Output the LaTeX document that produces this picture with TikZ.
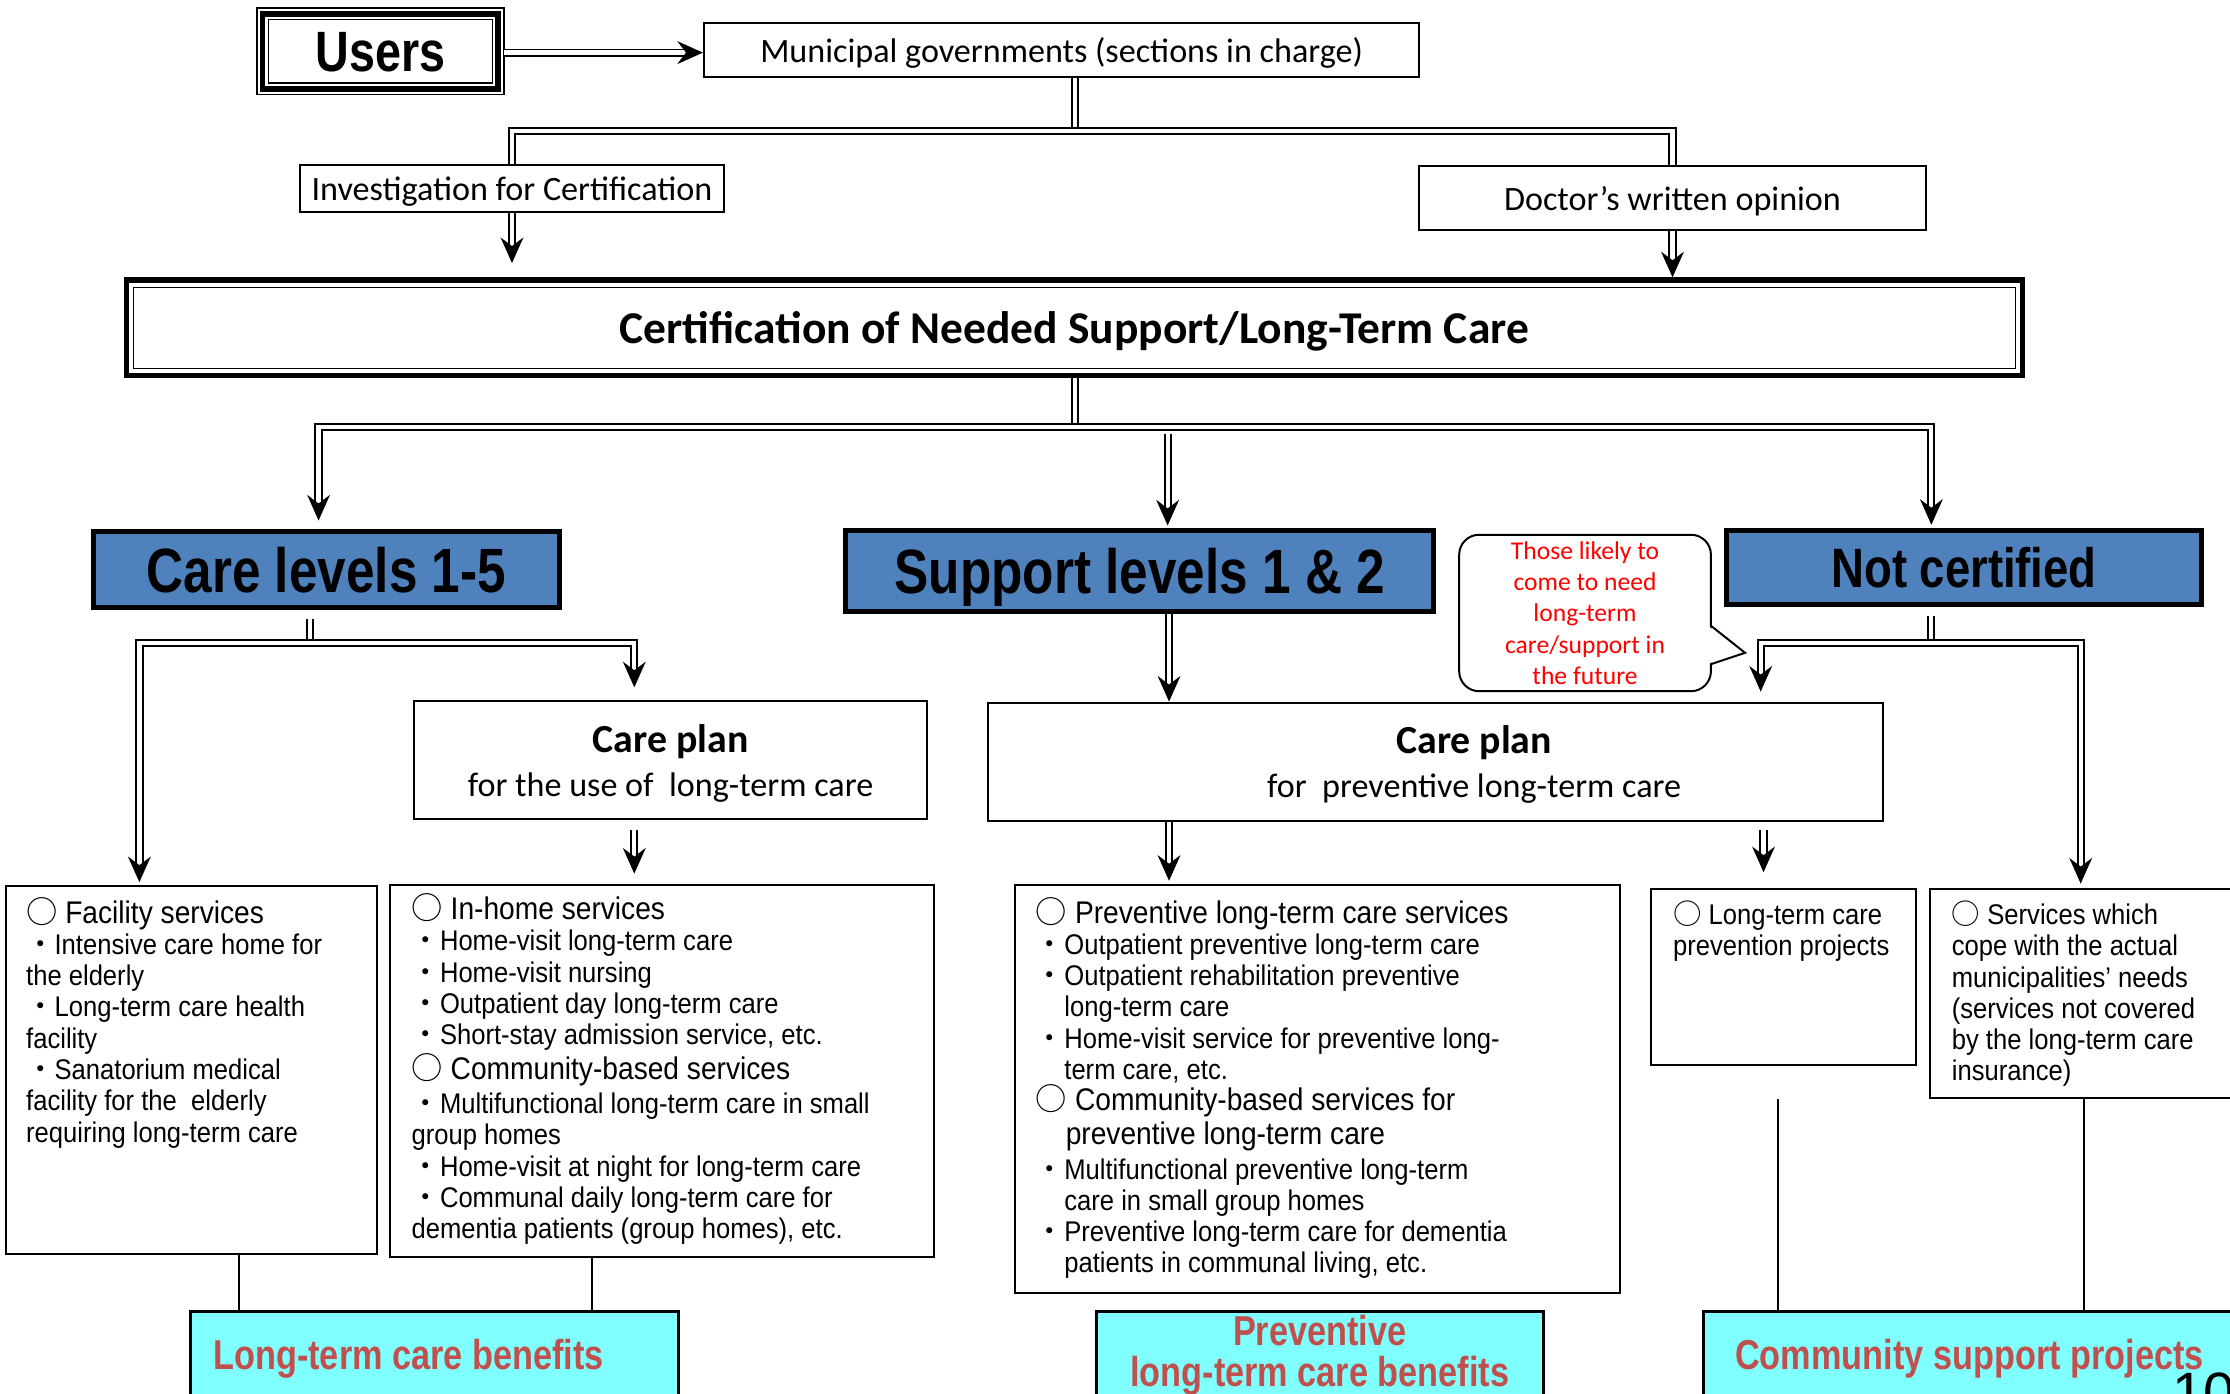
\documentclass[tikz,border=0pt]{standalone}
\usepackage{fontspec}
\setmainfont{Carlito}
\newfontfamily\arn[FakeStretch=0.9]{Liberation Sans}
\newfontfamily\arb[FakeStretch=0.82]{Liberation Sans}
\newfontfamily\arr{Liberation Sans}
\newfontfamily\jpf{Noto Sans CJK JP}
\usetikzlibrary{arrows.meta,shapes.callouts,calc}
\definecolor{lvblue}{HTML}{4F81BD}
\definecolor{boxcyan}{HTML}{80FFFF}
\definecolor{lblred}{HTML}{C0504D}
\newcommand\bul{{\jpf ・}}
\newcommand\cir{{\jpf ○}}
\newcommand\hd{\fontsize{11}{11}\selectfont}
\tikzset{
 box/.style={draw, line width=0.7pt, inner sep=0pt, text depth=0pt, font=\fontsize{12}{14}\selectfont},
 dbl/.style={double, double distance=1.5pt, line width=0.7pt},
 dblarrow/.style={dbl, -{Stealth[length=9pt, width=8pt, inset=3pt]}},
 lvl/.style={draw, line width=1.8pt, fill=lvblue, inner sep=0pt, text depth=0pt},
 cbox/.style={draw, line width=1pt, fill=boxcyan, inner sep=0pt, text depth=0pt},
 lst/.style={align=left, inner sep=0pt, anchor=base west, font=\arn\fontsize{10}{11}\selectfont},
 conn/.style={line width=0.7pt},
 redlbl/.style={font=\arb\bfseries\fontsize{14.7}{14.5}\selectfont, text=lblred},
}
\begin{document}
\begin{tikzpicture}[x=0.5pt, y=-0.5pt]
\useasboundingbox (0,0) rectangle (1568,980);
\clip (0,0) rectangle (1568,980);

% ---------- top ----------
\node[minimum width=86.5pt, minimum height=30pt, inner sep=0pt, font=\arb\bfseries\fontsize{20}{22}\selectfont] (users) at (267.5,37) {Users};
\draw[line width=0.5pt] ($(users.north west)+(0,-1)$) rectangle ($(users.south east)+(0,-1)$);
\draw[line width=2pt] ($(users.north west)+(4,3)$) rectangle ($(users.south east)+(-4,-5)$);
\draw[line width=0.5pt] ($(users.north west)+(8,7)$) rectangle ($(users.south east)+(-8,-9)$);

\node[box, minimum width=251.5pt, minimum height=19pt] (muni) at (746.5,35) {Municipal governments (sections in charge)};
\node[box, minimum width=149pt, minimum height=16.5pt] (inv) at (360,132.5) {Investigation for Certification};
\node[box, minimum width=178.5pt, minimum height=22.5pt] (doc) at (1176,139.5) {Doctor’s written opinion};

\node[draw, line width=2pt, minimum width=666.5pt, minimum height=33.5pt, inner sep=0pt, text depth=0pt, font=\bfseries\fontsize{16}{18}\selectfont] (cert) at (755.5,230.5) {Certification of Needed Support/Long-Term Care};
\draw[line width=0.5pt] ($(cert.north west)+(7,7)$) rectangle ($(cert.south east)+(-7,-7)$);

% ---------- levels ----------
\node[lvl, minimum width=163.7pt, minimum height=26.7pt, font=\arb\bfseries\fontsize{22}{24}\selectfont] (care) at (229.5,400.5) {Care levels 1-5};
\node[lvl, minimum width=206.7pt, minimum height=28.2pt, font=\arb\bfseries\fontsize{22}{24}\selectfont] (sup) at (801.5,401.5) {Support levels 1 \& 2};
\node[lvl, minimum width=167.2pt, minimum height=26.2pt, font=\arb\bfseries\fontsize{19.5}{22}\selectfont] (notc) at (1381,399) {Not certified};

% speech bubble
\node[draw, line width=0.7pt, rounded corners=7pt, minimum width=88.5pt, minimum height=55pt, inner sep=0pt,
      align=center, text=red, font=\fontsize{9}{11}\selectfont] (bub) at (1114.5,431)
  {Those likely to\\come to need\\long-term\\care/support in\\the future};
\coordinate (ptip) at (1227,459);
\fill[white] ([xshift=-1pt,yshift=-4.8pt]bub.east) -- (ptip) -- ([xshift=-1pt,yshift=-17.7pt]bub.east) -- cycle;
\draw[line width=0.7pt, line join=miter] ([xshift=-0.35pt,yshift=-4.5pt]bub.east) -- (ptip) -- ([xshift=-0.35pt,yshift=-18pt]bub.east);

% ---------- care plans ----------
\node[box, minimum width=180.5pt, minimum height=41.5pt, align=center, font=\fontsize{12}{15.5}\selectfont] (cp1) at (471.5,534.5)
  {{\bfseries\fontsize{14}{15.5}\selectfont Care plan}\\for the use of\ \ long-term care};
\node[box, minimum width=314.5pt, minimum height=41.5pt, align=center, font=\fontsize{12}{15.5}\selectfont] (cp2) at (1009.5,535.5)
  {\hspace*{27pt}{\bfseries\fontsize{14}{15.5}\selectfont Care plan}\\\hspace*{27pt}for\ \ preventive long-term care};

% ---------- service boxes ----------
\node[box, minimum width=130.5pt, minimum height=129.5pt] (fac) at (134.5,752.5) {};
\node[box, minimum width=191.5pt, minimum height=131pt] (inh) at (465.5,753) {};
\node[box, minimum width=212.5pt, minimum height=143.5pt] (prs) at (926.5,765.5) {};
\node[box, minimum width=93pt, minimum height=62pt] (ltp) at (1254,687) {};
\node[box, minimum width=131.5pt, minimum height=73.5pt] (svc) at (1488.5,698.5) {};

% multi-line nodes: base = last line
\node[lst] (facT) at (18,803) {{\hd\cir\ Facility services}\\
\bul Intensive care home for\\
the elderly\\
\bul Long-term care health\\
facility\\
\bul Sanatorium medical\\
facility for the\ \ elderly\\
requiring long-term care};

\node[lst] (inhT) at (289,871) {{\hd\cir\ In-home services}\\
\bul Home-visit long-term care\\
\bul Home-visit nursing\\
\bul Outpatient day long-term care\\
\bul Short-stay admission service, etc.\\
{\hd\cir\ Community-based services}\\[1pt]
\bul Multifunctional long-term care in small\\
group homes\\
\bul Home-visit at night for long-term care\\
\bul Communal daily long-term care for\\
dementia patients (group homes), etc.};

\node[lst] (prsT) at (728,895) {{\hd\cir\ Preventive long-term care services}\\
\bul Outpatient preventive long-term care\\
\bul Outpatient rehabilitation preventive\\
\hspace*{10pt}long-term care\\
\bul Home-visit service for preventive long-\\
\hspace*{10pt}term care, etc.\\
{\hd\cir\ Community-based services for}\\[1pt]
{\hd\hspace*{10.5pt}preventive long-term care}\\[1pt]
\bul Multifunctional preventive long-term\\
\hspace*{10pt}care in small group homes\\
\bul Preventive long-term care for dementia\\
\hspace*{10pt}patients in communal living, etc.};

\node[lst] (ltpT) at (1176,672) {\cir\ Long-term care\\prevention projects};
\node[lst] (svcT) at (1372,760) {\cir\ Services which\\cope with the actual\\municipalities’ needs\\(services not covered\\by the long-term care\\insurance)};

% ---------- bottom ----------
\node[cbox, minimum width=171.5pt, minimum height=30pt, text width=155.5pt, inner xsep=8pt, align=flush left, redlbl] (ltb) at (305.5,952) {Long-term care benefits};
\node[cbox, minimum width=157pt, minimum height=30pt, align=center, text depth=2pt, redlbl] (pvb) at (928,952) {Preventive\\long-term care benefits};
\node[cbox, minimum width=211pt, minimum height=30pt, text width=189pt, inner xsep=11pt, align=flush left, redlbl] (csp) at (1409,952) {Community support projects};
\node[anchor=base west, inner sep=0pt, font=\arr\fontsize{20}{24}\selectfont] (pg) at (1527,993) {10};

% ---------- columns ----------
\coordinate (b0) at (756,92);
\coordinate (b1) at (756,300);
\coordinate (s0) at (821,305);
\coordinate (b3) at (218,452);
\coordinate (b4) at (1358,452);
\coordinate (xcare) at (224,0);
\coordinate (xnot) at (1358,0);
\coordinate (xfac) at (98,0);
\coordinate (xcp1) at (446,0);
\coordinate (xs2) at (822,0);
\coordinate (xlt) at (1240,0);
\coordinate (xnl) at (1238,0);
\coordinate (xnr) at (1463,0);
\coordinate (c1) at (168,0);
\coordinate (c2) at (416,0);
\coordinate (c3) at (1250,0);
\coordinate (c4) at (1465,0);

% ---------- connectors ----------
\draw[dblarrow] (users.east) -- (muni.west |- users.east);
\draw[dbl] (muni.south -| b0) -- (b0);
\draw[dbl] (b0) -| (inv.north);
\draw[dbl] (b0) -| (doc.north);
\draw[dblarrow, shorten >=5pt] (inv.south) -- (cert.north -| inv.south);
\draw[dblarrow] (doc.south) -- (cert.north -| doc.south);

\draw[dbl] (cert.south -| b1) -- (b1);
\draw[dblarrow, shorten >=3pt] (b1) -| (care.north -| xcare);
\draw[dblarrow, shorten >=1pt] (b1) -| (notc.north -| xnot);
\draw[dblarrow, shorten >=1pt] (s0) -- (sup.north -| s0);

\draw[dbl, shorten <=3pt] (care.south -| b3) -- (b3);
\draw[dblarrow, shorten >=1pt] (b3) -| (fac.north -| xfac);
\draw[dblarrow, shorten >=4.5pt] (b3) -| (cp1.north -| xcp1);
\draw[dblarrow, shorten <=3.5pt, shorten >=3.5pt] (cp1.south -| xcp1) -- (inh.north -| xcp1);

\draw[dblarrow] (sup.south -| xs2) -- (cp2.north -| xs2);
\draw[dblarrow, shorten >=1pt] (cp2.south -| xs2) -- (prs.north -| xs2);
\draw[dblarrow, shorten <=3pt, shorten >=5.5pt] (cp2.south -| xlt) -- (ltp.north -| xlt);

\draw[dbl, shorten <=3pt] (notc.south -| b4) -- (b4);
\draw[dblarrow, shorten >=3.5pt] (b4) -| (cp2.north -| xnl);
\draw[dblarrow, shorten >=1.5pt] (b4) -| (svc.north -| xnr);

\draw[conn] (fac.south -| c1) -- (ltb.north -| c1);
\draw[conn] (inh.south -| c2) -- (ltb.north -| c2);
\draw[conn, shorten <=11.5pt] (ltp.south -| c3) -- (csp.north -| c3);
\draw[conn] (svc.south -| c4) -- (csp.north -| c4);
\end{tikzpicture}
\end{document}
